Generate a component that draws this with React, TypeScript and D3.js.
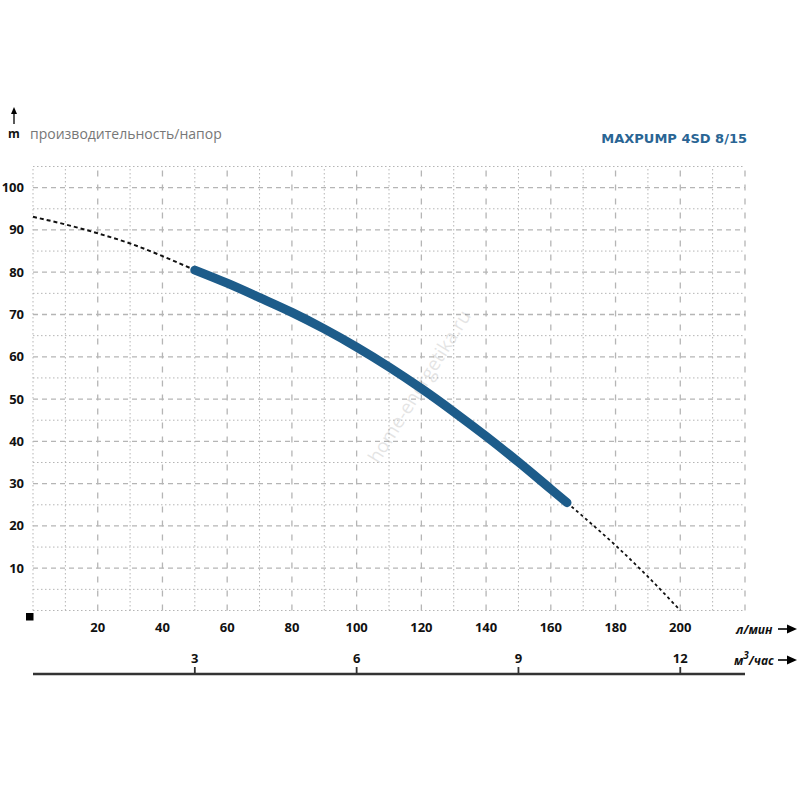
import React from "react";
import * as d3 from "d3";

// рабочий участок кривой (л/мин -> м)
const flowWork = [50, 60, 70, 80, 90, 100, 110, 120, 130, 140, 150, 160, 165];
const headWork = [80.5, 77.4, 74.0, 70.5, 66.6, 62.3, 57.6, 52.5, 47.0, 41.2, 35.1, 28.7, 25.5];

// продолжение кривой пунктиром
const flowLeft = [0, 10, 20, 30, 40, 50];
const headLeft = [93.1, 91.3, 89.2, 86.8, 83.8, 80.5];
const flowRight = [165, 170, 180, 190, 200];
const headRight = [25.5, 22.2, 15.4, 8.0, 0];

const flowTicks = [20, 40, 60, 80, 100, 120, 140, 160, 180, 200];
const headTicks = [10, 20, 30, 40, 50, 60, 70, 80, 90, 100];
const m3Ticks = [3, 6, 9, 12];

const title = "MAXPUMP 4SD 8/15";
const subtitle = "производительность/напор";

const W = 800;
const H = 800;
const gridColor = "#b5b5b5";
const blue = "#1d5c8a";
const font = "'Open Sans', 'DejaVu Sans', sans-serif";

const App: React.FC = () => {
  const x = d3.scaleLinear().domain([0, 220]).range([33, 745]);
  const y = d3.scaleLinear().domain([0, 105]).range([610.5, 166.5]);
  // м3/час на той же оси: 1 м3/ч = 1000/60 л/мин
  const xm3 = (v: number) => x((v * 1000) / 60);

  const line = d3
    .line<[number, number]>()
    .x((d) => x(d[0]))
    .y((d) => y(d[1]))
    .curve(d3.curveMonotoneX);

  const zip = (a: number[], b: number[]) => a.map((v, i) => [v, b[i]] as [number, number]);

  const vLines = d3.range(0, 221, 10);
  const hLines = d3.range(0, 106, 5);
  const axisY = 674;

  return (
    <svg
      width={W}
      height={H}
      style={{ position: "absolute", left: 0, top: 0, background: "#fff" }}
      fontFamily={font}
    >
      {/* сетка */}
      <g>
        {hLines.map((v) => {
          const major = v % 10 === 0 && v !== 0;
          return (
            <line
              key={"h" + v}
              x1={x(0)}
              x2={x(220)}
              y1={y(v)}
              y2={y(v)}
              stroke={gridColor}
              strokeWidth={major ? 1.3 : 1}
              strokeDasharray={major ? "5,4" : "1.5,2.5"}
            />
          );
        })}
        {vLines.map((v) => {
          const major = v % 20 === 0 && v !== 0;
          return (
            <line
              key={"v" + v}
              x1={x(v)}
              x2={x(v)}
              y1={y(0)}
              y2={y(105)}
              stroke={gridColor}
              strokeWidth={major ? 1.3 : 1}
              strokeDasharray={major ? "6,8" : "1.5,2.5"}
            />
          );
        })}
      </g>

      {/* водяной знак */}
      <text
        transform="translate(425,390) rotate(-58)"
        textAnchor="middle"
        fontSize={19}
        fill="#000"
        opacity={0.1}
      >
        home-energetika.ru
      </text>

      {/* кривая */}
      <path d={line(zip(flowLeft, headLeft)) || ""} fill="none" stroke="#111" strokeWidth={2} strokeDasharray="4,3" />
      <path d={line(zip(flowRight, headRight)) || ""} fill="none" stroke="#111" strokeWidth={1.8} strokeDasharray="3,3" />
      <path
        d={line(zip(flowWork, headWork)) || ""}
        fill="none"
        stroke={blue}
        strokeWidth={9}
        strokeLinecap="round"
        strokeLinejoin="round"
      />

      {/* ось Y */}
      {headTicks.map((v) => (
        <text key={"yt" + v} x={24} y={y(v) + 4.5} textAnchor="end" fontSize={13} fontWeight="bold" fill="#111">
          {v}
        </text>
      ))}
      <rect x={26} y={613} width={7.5} height={7.5} fill="#000" />

      {/* ось X л/мин */}
      {flowTicks.map((v) => (
        <text key={"xt" + v} x={x(v)} y={632} textAnchor="middle" fontSize={13} fontWeight="bold" fill="#111">
          {v}
        </text>
      ))}
      <text x={736} y={634} fontSize={12} fontWeight="bold" fontStyle="italic" fill="#111">
        л/мин
      </text>
      <line x1={778} x2={792} y1={629} y2={629} stroke="#000" strokeWidth={1.6} />
      <path d="M797,629 L787,624.5 L787,633.5 Z" fill="#000" />

      {/* ось X м3/час */}
      <line x1={x(0)} x2={x(220)} y1={axisY} y2={axisY} stroke="#333" strokeWidth={2.5} />
      {m3Ticks.map((v) => (
        <g key={"m3" + v}>
          <line x1={xm3(v)} x2={xm3(v)} y1={axisY} y2={axisY - 7} stroke="#333" strokeWidth={1.8} />
          <text x={xm3(v)} y={663} textAnchor="middle" fontSize={13} fontWeight="bold" fill="#111">
            {v}
          </text>
        </g>
      ))}
      <text x={734} y={665} fontSize={12} fontWeight="bold" fontStyle="italic" fill="#111">
        м<tspan dy={-6} fontSize={10}>3</tspan>
        <tspan dy={6}>/час</tspan>
      </text>
      <line x1={778} x2={792} y1={660} y2={660} stroke="#000" strokeWidth={1.6} />
      <path d="M797,660 L787,655.5 L787,664.5 Z" fill="#000" />

      {/* заголовок */}
      <line x1={14} x2={14} y1={112} y2={124} stroke="#000" strokeWidth={1.3} />
      <path d="M14,107 L11,114 L17,114 Z" fill="#000" />
      <text x={14} y={138} textAnchor="middle" fontSize={12} fontWeight="bold" fill="#111">
        m
      </text>
      <text x={30} y={139} fontSize={14} fill="#777">
        {subtitle}
      </text>
      <text x={747} y={143} textAnchor="end" fontSize={13} fontWeight="bold" fill="#2a6594" fontFamily="'DejaVu Sans', sans-serif">
        {title}
      </text>
    </svg>
  );
};

export default App;
